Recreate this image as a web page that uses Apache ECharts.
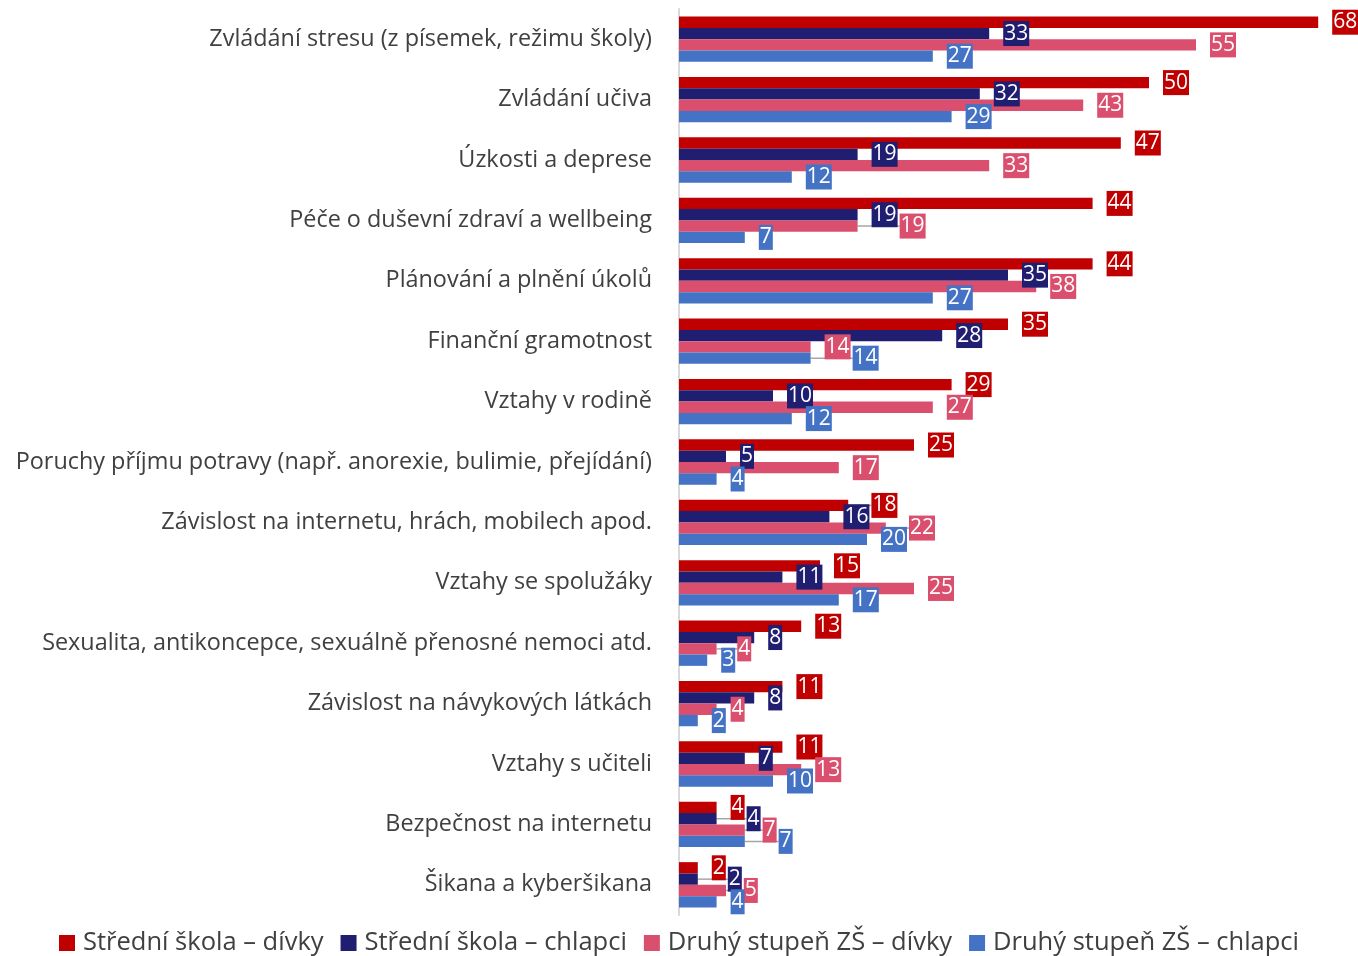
<!DOCTYPE html>
<html>
<head>
<meta charset="utf-8">
<script src="https://cdn.jsdelivr.net/npm/echarts@6/dist/echarts.min.js"></script>
<style>html,body{margin:0;padding:0;background:#fff;}#chart{width:1358px;height:956px;}</style>
</head>
<body>
<div id="chart"></div>
<script>
const categories = [
  "Zvládání stresu (z písemek, režimu školy)",
  "Zvládání učiva",
  "Úzkosti a deprese",
  "Péče o duševní zdraví a wellbeing",
  "Plánování a plnění úkolů",
  "Finanční gramotnost",
  "Vztahy v rodině",
  "Poruchy příjmu potravy (např. anorexie, bulimie, přejídání)",
  "Závislost na internetu, hrách, mobilech apod.",
  "Vztahy se spolužáky",
  "Sexualita, antikoncepce, sexuálně přenosné nemoci atd.",
  "Závislost na návykových látkách",
  "Vztahy s učiteli",
  "Bezpečnost na internetu",
  "Šikana a kyberšikana"
];
const seriesNames = ["Střední škola – dívky", "Střední škola – chlapci", "Druhý stupeň ZŠ – dívky", "Druhý stupeň ZŠ – chlapci"];
const ssDivky   = [68, 50, 47, 44, 44, 35, 29, 25, 18, 15, 13, 11, 11, 4, 2];
const ssChlapci = [33, 32, 19, 19, 35, 28, 10, 5, 16, 11, 8, 8, 7, 4, 2];
const zsDivky   = [55, 43, 33, 19, 38, 14, 27, 17, 22, 25, 4, 4, 13, 7, 5];
const zsChlapci = [27, 29, 12, 7, 27, 14, 12, 4, 20, 17, 3, 2, 10, 7, 4];

const colors = ['#C00000', '#201E70', '#DB4F6E', '#4472C4'];
const allData = [ssDivky, ssChlapci, zsDivky, zsChlapci];

const FONT = '"Open Sans", "Noto Sans", sans-serif';
const LABEL_SIZE = 21;
const X_MAX = 70;
const GRID_LEFT = 679, GRID_RIGHT = 21;
const W = 1358;
const scale = (W - GRID_LEFT - GRID_RIGHT) / X_MAX;
const DIST = 14;

// measure label widths
const cv = document.createElement('canvas').getContext('2d');
cv.font = LABEL_SIZE + 'px ' + FONT;
function boxW(v) { return cv.measureText(String(v)).width + 2; }

// compute horizontal shifts to avoid overlapping neighbouring labels
const shifts = allData.map(() => categories.map(() => 0));
categories.forEach((c, ci) => {
  const order = [0, 1, 2, 3].sort((a, b) => (allData[a][ci] - allData[b][ci]) || (a - b));
  const placed = [];
  order.forEach(si => {
    const v = allData[si][ci];
    const def = v * scale + DIST;
    const w = boxW(v);
    let left = def;
    let changed = true;
    while (changed) {
      changed = false;
      placed.forEach(p => {
        if (Math.abs(p.si - si) === 1 && left < p.right - 1 && left + w > p.left + 1) {
          left = p.right + 2;
          changed = true;
        }
      });
    }
    placed.push({ si: si, left: left, right: left + w });
    shifts[si][ci] = left - def;
  });
});

const chart = echarts.init(document.getElementById('chart'), null, { renderer: 'canvas' });
const series = seriesNames.map((name, si) => ({
  name: name,
  type: 'bar',
  data: allData[si].map((v, ci) => ({
    value: v,
    labelLine: { show: shifts[si][ci] > 0 }
  })),
  barGap: '0%',
  barCategoryGap: '25%',
  itemStyle: { color: colors[si] },
  label: {
    show: true,
    position: 'right',
    distance: DIST,
    color: '#fff',
    fontFamily: FONT,
    fontSize: LABEL_SIZE,
    lineHeight: 21,
    backgroundColor: colors[si],
    padding: [2, 1]
  },
  labelLine: { show: false, lineStyle: { color: '#A6A6A6', width: 1.5 } },
  labelLayout: function (params) {
    const dx = shifts[params.seriesIndex][params.dataIndex];
    return dx ? { dx: dx } : {};
  }
}));

chart.setOption({
  animation: false,
  textStyle: { fontFamily: FONT },
  grid: { left: GRID_LEFT, right: GRID_RIGHT, top: 9, bottom: 41, containLabel: false },
  legend: {
    bottom: -5,
    left: 'center',
    icon: 'rect',
    itemWidth: 16,
    itemHeight: 16,
    itemGap: 17,
    textStyle: { fontSize: 25.5, color: '#404040', fontFamily: FONT, padding: [0, 0, 0, 3] },
    data: seriesNames
  },
  xAxis: {
    type: 'value',
    min: 0,
    max: X_MAX,
    show: false
  },
  yAxis: {
    type: 'category',
    inverse: true,
    data: categories,
    axisLine: { lineStyle: { color: '#D9D9D9', width: 2 } },
    axisTick: { show: false },
    axisLabel: { fontSize: 23.4, color: '#404040', margin: 27, fontFamily: FONT }
  },
  series: series
});
</script>
</body>
</html>
